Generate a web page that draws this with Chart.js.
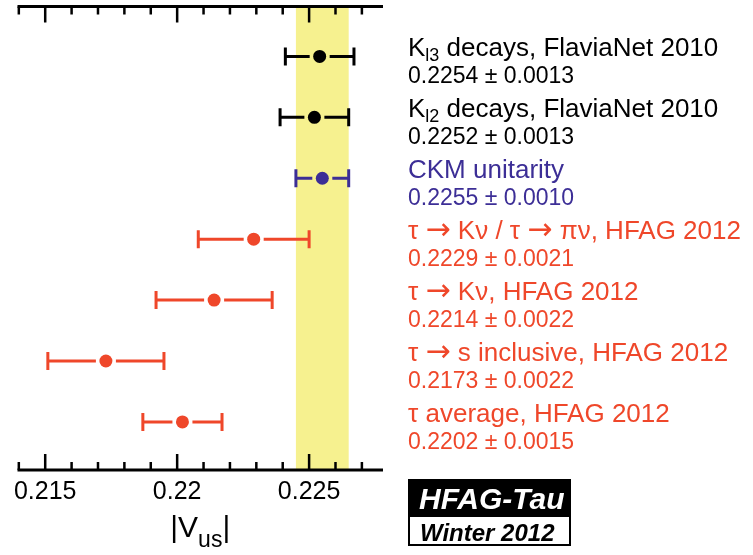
<!DOCTYPE html>
<html>
<head>
<meta charset="utf-8">
<script src="https://cdn.jsdelivr.net/npm/chart.js@4.4.1/dist/chart.umd.min.js"></script>
<style>
  html, body { margin: 0; padding: 0; background: #fff; }
  #wrap { width: 753px; height: 555px; }
</style>
</head>
<body>
<div id="wrap"><canvas id="chart" width="753" height="555"></canvas></div>
<script>
"use strict";

// One row per measurement, top to bottom.
const ROWS = [1, 2, 3, 4, 5, 6, 7];
const VALUES = [0.2254, 0.2252, 0.2255, 0.2229, 0.2214, 0.2173, 0.2202];
const ERRORS = [0.0013, 0.0013, 0.0010, 0.0021, 0.0022, 0.0022, 0.0015];

// Label = head + subscript + tail (only the kaon rows carry a subscript).
const TITLE_HEAD = ["K", "K", "CKM unitarity", "τ → Kν / τ → πν, HFAG 2012",
  "τ → Kν, HFAG 2012", "τ → s inclusive, HFAG 2012", "τ average, HFAG 2012"];
const TITLE_SUB = ["l3", "l2", "", "", "", "", ""];
const TITLE_TAIL = [" decays, FlaviaNet 2010", " decays, FlaviaNet 2010", "", "", "", "", ""];

const BLACK = "#000000";
const PURPLE = "#3c2e96";
const RED = "#ef472a";
const ROW_COLORS = [BLACK, BLACK, PURPLE, RED, RED, RED, RED];

// The yellow band is the CKM unitarity value ± error.
const BAND_ROW = 2;

const X_MIN = 0.21395;
const X_MAX = 0.2278;
const TICK_MAJOR = [0.215, 0.22, 0.225];
const TICK_LABELS = ["0.215", "0.22", "0.225"];

const FONT = "'Liberation Sans', Arial, 'DejaVu Sans', sans-serif";
const ARROW_FONT = "'DejaVu Sans', sans-serif";

function majorIndex(v) {
  return TICK_MAJOR.findIndex((m) => Math.abs(m - v) < 1e-7);
}

// Draws text, switching to a wider font for the arrows; returns the end x.
function drawRich(ctx, text, x, y, size) {
  const parts = text.split("→");
  parts.forEach((p, k) => {
    ctx.font = `${size}px ${FONT}`;
    ctx.fillText(p, x, y);
    x += ctx.measureText(p).width;
    if (k < parts.length - 1) {
      ctx.font = `${Math.round(size * 1.15)}px ${ARROW_FONT}`;
      ctx.fillText("→", x, y);
      x += ctx.measureText("→").width;
    }
  });
  return x;
}

const decorPlugin = {
  id: "decor",
  beforeDatasetsDraw(chart) {
    const { ctx, chartArea: a, scales: { x, y } } = chart;
    ctx.save();

    // CKM band
    const b0 = x.getPixelForValue(VALUES[BAND_ROW] - ERRORS[BAND_ROW]);
    const b1 = x.getPixelForValue(VALUES[BAND_ROW] + ERRORS[BAND_ROW]);
    ctx.fillStyle = "#f6f18f";
    ctx.fillRect(b0, a.top, b1 - b0, a.bottom - a.top);

    // top and bottom frame lines with inward ticks
    ctx.strokeStyle = "#000";
    ctx.lineWidth = 3;
    ctx.beginPath();
    ctx.moveTo(a.left, a.top); ctx.lineTo(a.right, a.top);
    ctx.moveTo(a.left, a.bottom); ctx.lineTo(a.right, a.bottom);
    ctx.stroke();
    ctx.lineWidth = 2.5;
    ctx.beginPath();
    for (const t of x.ticks) {
      const px = x.getPixelForValue(t.value);
      const len = majorIndex(t.value) >= 0 ? 16 : 8;
      ctx.moveTo(px, a.top); ctx.lineTo(px, a.top + len);
      ctx.moveTo(px, a.bottom); ctx.lineTo(px, a.bottom - len);
    }
    ctx.stroke();

    // error bars, with a small gap around each marker
    const gap = 10, cap = 9;
    ROWS.forEach((row, i) => {
      const py = y.getPixelForValue(row);
      const pc = x.getPixelForValue(VALUES[i]);
      const lo = x.getPixelForValue(VALUES[i] - ERRORS[i]);
      const hi = x.getPixelForValue(VALUES[i] + ERRORS[i]);
      ctx.strokeStyle = ROW_COLORS[i];
      ctx.lineWidth = 3;
      ctx.beginPath();
      ctx.moveTo(lo, py); ctx.lineTo(pc - gap, py);
      ctx.moveTo(pc + gap, py); ctx.lineTo(hi, py);
      ctx.moveTo(lo, py - cap); ctx.lineTo(lo, py + cap);
      ctx.moveTo(hi, py - cap); ctx.lineTo(hi, py + cap);
      ctx.stroke();
    });
    ctx.restore();
  },
  afterDraw(chart) {
    const { ctx, chartArea: a, scales: { y } } = chart;
    ctx.save();
    ctx.textBaseline = "alphabetic";
    ctx.textAlign = "left";
    const tx = a.right + 25;

    ROWS.forEach((row, i) => {
      const py = y.getPixelForValue(row);
      ctx.fillStyle = ROW_COLORS[i];
      let cx = drawRich(ctx, TITLE_HEAD[i], tx, py, 26);
      if (TITLE_SUB[i]) {
        ctx.font = `18px ${FONT}`;
        ctx.fillText(TITLE_SUB[i], cx, py + 5);
        cx += ctx.measureText(TITLE_SUB[i]).width;
        drawRich(ctx, TITLE_TAIL[i], cx, py, 26);
      }
      ctx.font = `23px ${FONT}`;
      ctx.fillText(`${VALUES[i].toFixed(4)} ± ${ERRORS[i].toFixed(4)}`, tx, py + 27);
    });

    // axis title |V_us|
    ctx.fillStyle = "#000";
    const mid = (a.left + a.right) / 2;
    ctx.font = `30px ${FONT}`;
    const wV = ctx.measureText("|V").width;
    const wBar = ctx.measureText("|").width;
    ctx.font = `23px ${FONT}`;
    const wUs = ctx.measureText("us").width;
    let ax = mid - (wV + wUs + wBar) / 2;
    const ay = 537;
    ctx.font = `30px ${FONT}`;
    ctx.fillText("|V", ax, ay);
    ax += wV;
    ctx.font = `23px ${FONT}`;
    ctx.fillText("us", ax, ay + 10);
    ax += wUs;
    ctx.font = `30px ${FONT}`;
    ctx.fillText("|", ax, ay);

    // HFAG-Tau stamp
    const bx = a.right + 25, bw = 163;
    ctx.fillStyle = "#000";
    ctx.fillRect(bx, 479, bw, 37);
    ctx.fillStyle = "#fff";
    ctx.fillRect(bx + 2, 516, bw - 4, 28);
    ctx.strokeStyle = "#000";
    ctx.lineWidth = 2;
    ctx.strokeRect(bx + 1, 516, bw - 2, 29);
    ctx.fillStyle = "#fff";
    ctx.font = `italic bold 30px ${FONT}`;
    ctx.fillText("HFAG-Tau", bx + 11, 509);
    ctx.fillStyle = "#000";
    ctx.font = `italic bold 24px ${FONT}`;
    ctx.fillText("Winter 2012", bx + 12, 541);
    ctx.restore();
  },
};

new Chart(document.getElementById("chart"), {
  type: "scatter",
  data: {
    datasets: [{
      data: ROWS.map((row, i) => ({ x: VALUES[i], y: row })),
      pointRadius: 6.5,
      pointHoverRadius: 6.5,
      pointBorderWidth: 0,
      pointBackgroundColor: ROW_COLORS,
    }],
  },
  options: {
    responsive: false,
    animation: false,
    events: [],
    layout: { padding: { left: 17.5, right: 370, top: 5, bottom: 0 } },
    plugins: { legend: { display: false }, tooltip: { enabled: false } },
    scales: {
      x: {
        type: "linear",
        min: X_MIN,
        max: X_MAX,
        grid: { display: false, drawTicks: false },
        border: { display: false },
        afterFit: (s) => { s.height = 85; },
        ticks: {
          stepSize: 0.001,
          includeBounds: false,
          autoSkip: false,
          maxRotation: 0,
          padding: 7,
          color: "#000",
          font: { family: FONT, size: 25 },
          callback: (v) => {
            const k = majorIndex(v);
            return k >= 0 ? TICK_LABELS[k] : "";
          },
        },
      },
      y: { type: "linear", reverse: true, min: 0.18, max: 7.79, display: false },
    },
  },
  plugins: [decorPlugin],
});
</script>
</body>
</html>
